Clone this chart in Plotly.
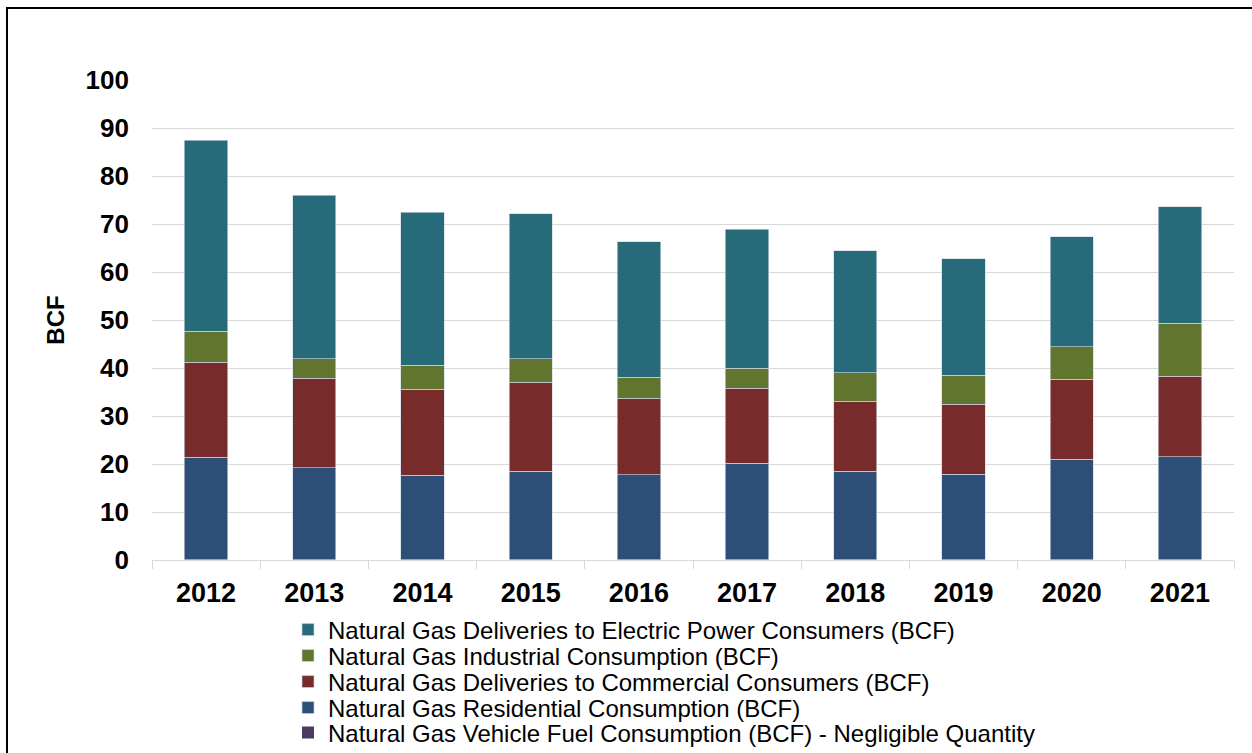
import plotly.graph_objects as go

# Annual natural gas consumption by sector (BCF)
years = ["2012", "2013", "2014", "2015", "2016", "2017", "2018", "2019", "2020", "2021"]
vehicle = [0.01, 0.01, 0.01, 0.01, 0.01, 0.01, 0.01, 0.01, 0.01, 0.01]
residential = [21.4, 19.2, 17.6, 18.5, 17.8, 20.1, 18.5, 17.85, 21.0, 21.45]
commercial = [19.8, 18.65, 18.0, 18.5, 15.9, 15.7, 14.55, 14.55, 16.6, 16.85]
industrial = [6.4, 4.1, 4.95, 4.9, 4.35, 4.1, 5.9, 6.1, 6.8, 11.0]
electric = [39.8, 34.05, 31.85, 30.2, 28.2, 29.0, 25.45, 24.3, 22.9, 24.3]

font = "Arial, 'Liberation Sans', sans-serif"

# bottom-to-top stacking order
series = [
    ("Natural Gas Vehicle Fuel Consumption (BCF) - Negligible Quantity", vehicle, "#4d3a64", "legend5"),
    ("Natural Gas Residential Consumption (BCF)", residential, "#2d4f77", "legend4"),
    ("Natural Gas Deliveries to Commercial Consumers (BCF)", commercial, "#772c2b", "legend3"),
    ("Natural Gas Industrial Consumption (BCF)", industrial, "#62752f", "legend2"),
    ("Natural Gas Deliveries to Electric Power Consumers (BCF)", electric, "#276b7b", "legend"),
]

fig = go.Figure()
for name, vals, color, leg in series:
    fig.add_trace(go.Bar(
        x=years, y=vals, name=name, legend=leg, showlegend=True,
        marker=dict(color=color,
                    line=dict(width=0 if vals is vehicle else 0.8,
                              color="rgba(205,215,225,0.8)")),
    ))

plot_l, plot_r, plot_t, plot_b = 152, 1234, 80, 560
plot_w, plot_h = plot_r - plot_l, plot_b - plot_t

# one legend per row so the rows sit as close as in the original
rows = {"legend": 630, "legend2": 656, "legend3": 682, "legend4": 708, "legend5": 733}
leg_layout = {}
for key, yc in rows.items():
    leg_layout[key] = dict(
        x=(288 - plot_l) / plot_w, xanchor="left",
        y=(plot_b - yc) / plot_h, yanchor="middle",
        bgcolor="rgba(0,0,0,0)", borderwidth=0,
        font=dict(family=font, size=24, color="black"),
    )

fig.update_layout(
    barmode="stack",
    bargap=0.6,
    showlegend=True,
    width=1252, height=753,
    margin=dict(l=plot_l, r=1252 - plot_r, t=plot_t, b=753 - plot_b, autoexpand=False),
    paper_bgcolor="white",
    plot_bgcolor="white",
    font=dict(family=font, color="black"),
    **leg_layout,
)

fig.update_xaxes(
    type="category",
    showline=True, linecolor="#d9d9d9", linewidth=1,
    ticks="outside", tickson="boundaries", ticklen=8, tickcolor="#d9d9d9",
    tickfont=dict(family=font, size=27, color="black", weight="bold"),
    ticklabelstandoff=9,
    showgrid=False,
)
fig.update_yaxes(
    range=[0, 100], dtick=10,
    showgrid=True, gridcolor="#d9d9d9", gridwidth=1,
    zeroline=False, showline=False, ticks="",
    tickfont=dict(family=font, size=26, color="black", weight="bold"),
    ticklabelstandoff=22,
    title=dict(text="BCF", font=dict(family=font, size=24, color="black", weight="bold"),
               standoff=14),
)

# chart area border (runs off the right and bottom edges of the picture)
fig.add_shape(type="rect", xref="paper", yref="paper",
              x0=(7 - plot_l) / plot_w, x1=(1262 - plot_l) / plot_w,
              y0=(plot_b - 770) / plot_h, y1=(plot_b - 8) / plot_h,
              line=dict(color="black", width=2), fillcolor="rgba(0,0,0,0)", layer="below")

# drop the default 8px page margin so the figure fills the window exactly
fig.write_html("out.html", config={"displayModeBar": False},
               post_script="document.body.style.margin = '0';")
